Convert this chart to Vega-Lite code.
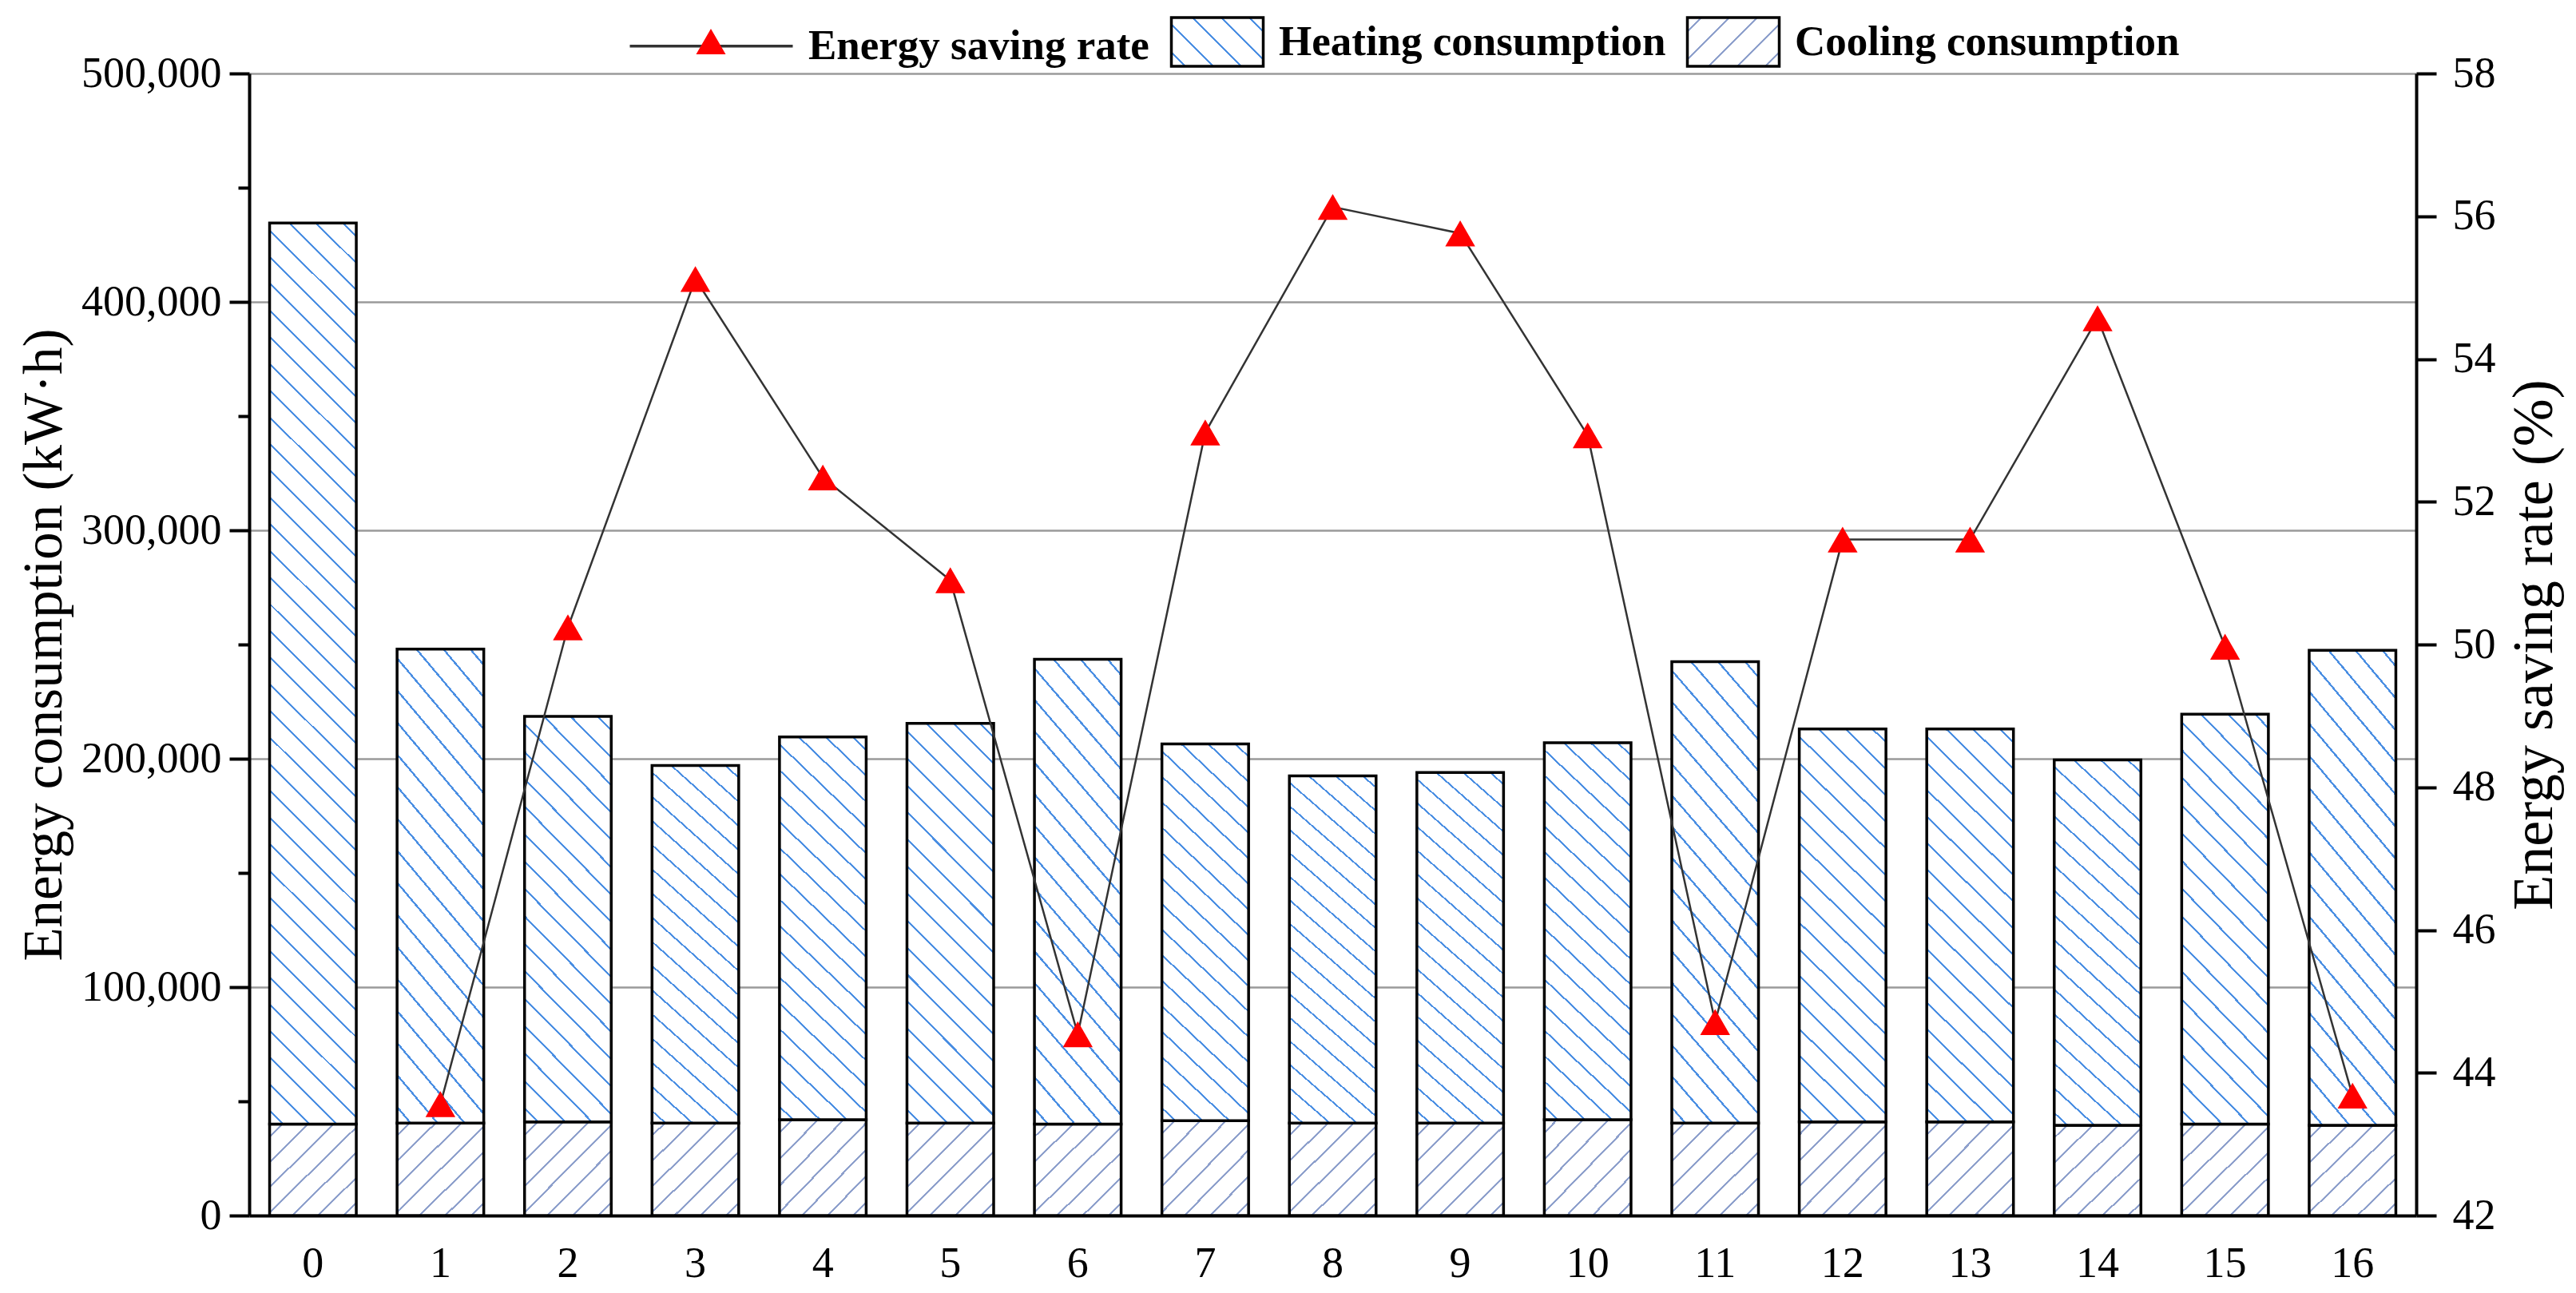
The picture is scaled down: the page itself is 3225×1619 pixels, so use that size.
{
"$schema": "https://vega.github.io/schema/vega-lite/v6.json",
"width": 2713, "height": 1430,
"autosize": {"type": "none"},
"padding": {"left": 312, "top": 92, "right": 200, "bottom": 97},
"background": "white",
"config": {"view": {"stroke": null}, "font": "Liberation Serif"},
"datasets": {
"consumption": [
{"scheme": 0, "type": "Cooling consumption", "value": 40000}, {"scheme": 0, "type": "Heating consumption", "value": 394500},
{"scheme": 1, "type": "Cooling consumption", "value": 40500}, {"scheme": 1, "type": "Heating consumption", "value": 207500},
{"scheme": 2, "type": "Cooling consumption", "value": 41000}, {"scheme": 2, "type": "Heating consumption", "value": 177500},
{"scheme": 3, "type": "Cooling consumption", "value": 40500}, {"scheme": 3, "type": "Heating consumption", "value": 156500},
{"scheme": 4, "type": "Cooling consumption", "value": 42000}, {"scheme": 4, "type": "Heating consumption", "value": 167500},
{"scheme": 5, "type": "Cooling consumption", "value": 40500}, {"scheme": 5, "type": "Heating consumption", "value": 175000},
{"scheme": 6, "type": "Cooling consumption", "value": 40000}, {"scheme": 6, "type": "Heating consumption", "value": 203500},
{"scheme": 7, "type": "Cooling consumption", "value": 41500}, {"scheme": 7, "type": "Heating consumption", "value": 165000},
{"scheme": 8, "type": "Cooling consumption", "value": 40500}, {"scheme": 8, "type": "Heating consumption", "value": 152000},
{"scheme": 9, "type": "Cooling consumption", "value": 40500}, {"scheme": 9, "type": "Heating consumption", "value": 153500},
{"scheme": 10, "type": "Cooling consumption", "value": 42000}, {"scheme": 10, "type": "Heating consumption", "value": 165000},
{"scheme": 11, "type": "Cooling consumption", "value": 40500}, {"scheme": 11, "type": "Heating consumption", "value": 202000},
{"scheme": 12, "type": "Cooling consumption", "value": 41000}, {"scheme": 12, "type": "Heating consumption", "value": 172000},
{"scheme": 13, "type": "Cooling consumption", "value": 41000}, {"scheme": 13, "type": "Heating consumption", "value": 172000},
{"scheme": 14, "type": "Cooling consumption", "value": 39500}, {"scheme": 14, "type": "Heating consumption", "value": 160000},
{"scheme": 15, "type": "Cooling consumption", "value": 40000}, {"scheme": 15, "type": "Heating consumption", "value": 179500},
{"scheme": 16, "type": "Cooling consumption", "value": 39500}, {"scheme": 16, "type": "Heating consumption", "value": 208000}
],
"rate": [
{"scheme": 1, "series": "Energy saving rate", "rate": 43.56},
{"scheme": 2, "series": "Energy saving rate", "rate": 50.24},
{"scheme": 3, "series": "Energy saving rate", "rate": 55.12},
{"scheme": 4, "series": "Energy saving rate", "rate": 52.34},
{"scheme": 5, "series": "Energy saving rate", "rate": 50.90},
{"scheme": 6, "series": "Energy saving rate", "rate": 44.54},
{"scheme": 7, "series": "Energy saving rate", "rate": 52.97},
{"scheme": 8, "series": "Energy saving rate", "rate": 56.13},
{"scheme": 9, "series": "Energy saving rate", "rate": 55.76},
{"scheme": 10, "series": "Energy saving rate", "rate": 52.93},
{"scheme": 11, "series": "Energy saving rate", "rate": 44.71},
{"scheme": 12, "series": "Energy saving rate", "rate": 51.47},
{"scheme": 13, "series": "Energy saving rate", "rate": 51.47},
{"scheme": 14, "series": "Energy saving rate", "rate": 54.57},
{"scheme": 15, "series": "Energy saving rate", "rate": 49.97},
{"scheme": 16, "series": "Energy saving rate", "rate": 43.68}
]
},
"encoding": {
"x": {"field": "scheme", "type": "ordinal", "scale": {"paddingInner": 0.32, "paddingOuter": 0.16},
 "axis": {"title": null, "ticks": false, "tickSize": 0, "labelPadding": 33, "labelFont": "Liberation Serif", "labelFontSize": 54, "labelColor": "black", "labelAngle": 0, "domainColor": "black", "domainWidth": 4, "grid": false}}
},
"layer": [
{
"data": {"name": "consumption"},
"encoding": {
 "y": {"field": "v1", "type": "quantitative", "scale": {"domain": [0, 500000], "nice": false},
  "axis": {"orient": "left", "values": [0, 50000, 100000, 150000, 200000, 250000, 300000, 350000, 400000, 450000, 500000],
   "labelExpr": "datum.value % 100000 === 0 ? format(datum.value, ',') : ''",
   "tickSize": {"condition": {"test": "datum.value % 100000 === 0", "value": 25}, "value": 14},
   "tickWidth": 4, "tickColor": "black", "domainColor": "black", "domainWidth": 4,
   "grid": true, "gridColor": "#9a9a9a", "gridWidth": 2.5,
   "gridOpacity": {"condition": {"test": "datum.value % 100000 === 0 && datum.value > 0", "value": 1}, "value": 0},
   "labelFont": "Liberation Serif", "labelFontSize": 54, "labelColor": "black", "labelPadding": 10, "labelOverlap": false,
   "title": "Energy consumption (kW·h)", "titleFont": "Liberation Serif", "titleFontSize": 69, "titleFontWeight": "normal", "titleColor": "black", "titlePadding": 22}},
 "y2": {"field": "v0"}
},
"layer": [
{"transform": [{"stack": "value", "groupby": ["scheme"], "sort": [{"field": "type", "order": "ascending"}], "as": ["v0", "v1"]}, {"filter": "datum.type === 'Cooling consumption'"}],
 "mark": {"type": "bar", "stroke": "black", "strokeWidth": 3.5, "opacity": 1,
  "fill": {"gradient": "linear", "x1": 0, "y1": 0, "x2": 0.9633, "y2": 1.0346, "stops": [
   {"offset":0,"color":"#fff"},
   {"offset":0.0647,"color":"#fff"},{"offset":0.0647,"color":"#8ea0cc"},{"offset":0.0781,"color":"#8ea0cc"},{"offset":0.0781,"color":"#fff"},
   {"offset":0.2076,"color":"#fff"},{"offset":0.2076,"color":"#8ea0cc"},{"offset":0.2210,"color":"#8ea0cc"},{"offset":0.2210,"color":"#fff"},
   {"offset":0.3504,"color":"#fff"},{"offset":0.3504,"color":"#8ea0cc"},{"offset":0.3638,"color":"#8ea0cc"},{"offset":0.3638,"color":"#fff"},
   {"offset":0.4933,"color":"#fff"},{"offset":0.4933,"color":"#8ea0cc"},{"offset":0.5067,"color":"#8ea0cc"},{"offset":0.5067,"color":"#fff"},
   {"offset":0.6362,"color":"#fff"},{"offset":0.6362,"color":"#8ea0cc"},{"offset":0.6496,"color":"#8ea0cc"},{"offset":0.6496,"color":"#fff"},
   {"offset":0.7790,"color":"#fff"},{"offset":0.7790,"color":"#8ea0cc"},{"offset":0.7924,"color":"#8ea0cc"},{"offset":0.7924,"color":"#fff"},
   {"offset":0.9219,"color":"#fff"},{"offset":0.9219,"color":"#8ea0cc"},{"offset":0.9353,"color":"#8ea0cc"},{"offset":0.9353,"color":"#fff"},
   {"offset":1,"color":"#fff"}]}}},
{"transform": [{"stack": "value", "groupby": ["scheme"], "sort": [{"field": "type", "order": "ascending"}], "as": ["v0", "v1"]}, {"filter": "datum.type === 'Heating consumption' && datum.scheme !== 0"}],
 "mark": {"type": "bar", "stroke": "black", "strokeWidth": 3.5, "opacity": 1,
  "fill": {"gradient": "linear", "x1": 0, "y1": 1, "x2": 0.2527, "y2": -0.1625, "stops": [
   {"offset":0,"color":"#fff"},
   {"offset":0.0253,"color":"#fff"},{"offset":0.0253,"color":"#4b8fe3"},{"offset":0.0303,"color":"#4b8fe3"},{"offset":0.0303,"color":"#fff"},
   {"offset":0.0808,"color":"#fff"},{"offset":0.0808,"color":"#4b8fe3"},{"offset":0.0858,"color":"#4b8fe3"},{"offset":0.0858,"color":"#fff"},
   {"offset":0.1364,"color":"#fff"},{"offset":0.1364,"color":"#4b8fe3"},{"offset":0.1414,"color":"#4b8fe3"},{"offset":0.1414,"color":"#fff"},
   {"offset":0.1919,"color":"#fff"},{"offset":0.1919,"color":"#4b8fe3"},{"offset":0.1969,"color":"#4b8fe3"},{"offset":0.1969,"color":"#fff"},
   {"offset":0.2475,"color":"#fff"},{"offset":0.2475,"color":"#4b8fe3"},{"offset":0.2525,"color":"#4b8fe3"},{"offset":0.2525,"color":"#fff"},
   {"offset":0.3031,"color":"#fff"},{"offset":0.3031,"color":"#4b8fe3"},{"offset":0.3081,"color":"#4b8fe3"},{"offset":0.3081,"color":"#fff"},
   {"offset":0.3586,"color":"#fff"},{"offset":0.3586,"color":"#4b8fe3"},{"offset":0.3636,"color":"#4b8fe3"},{"offset":0.3636,"color":"#fff"},
   {"offset":0.4142,"color":"#fff"},{"offset":0.4142,"color":"#4b8fe3"},{"offset":0.4192,"color":"#4b8fe3"},{"offset":0.4192,"color":"#fff"},
   {"offset":0.4697,"color":"#fff"},{"offset":0.4697,"color":"#4b8fe3"},{"offset":0.4747,"color":"#4b8fe3"},{"offset":0.4747,"color":"#fff"},
   {"offset":0.5253,"color":"#fff"},{"offset":0.5253,"color":"#4b8fe3"},{"offset":0.5303,"color":"#4b8fe3"},{"offset":0.5303,"color":"#fff"},
   {"offset":0.5808,"color":"#fff"},{"offset":0.5808,"color":"#4b8fe3"},{"offset":0.5858,"color":"#4b8fe3"},{"offset":0.5858,"color":"#fff"},
   {"offset":0.6364,"color":"#fff"},{"offset":0.6364,"color":"#4b8fe3"},{"offset":0.6414,"color":"#4b8fe3"},{"offset":0.6414,"color":"#fff"},
   {"offset":0.6919,"color":"#fff"},{"offset":0.6919,"color":"#4b8fe3"},{"offset":0.6969,"color":"#4b8fe3"},{"offset":0.6969,"color":"#fff"},
   {"offset":0.7475,"color":"#fff"},{"offset":0.7475,"color":"#4b8fe3"},{"offset":0.7525,"color":"#4b8fe3"},{"offset":0.7525,"color":"#fff"},
   {"offset":0.8031,"color":"#fff"},{"offset":0.8031,"color":"#4b8fe3"},{"offset":0.8081,"color":"#4b8fe3"},{"offset":0.8081,"color":"#fff"},
   {"offset":0.8586,"color":"#fff"},{"offset":0.8586,"color":"#4b8fe3"},{"offset":0.8636,"color":"#4b8fe3"},{"offset":0.8636,"color":"#fff"},
   {"offset":0.9142,"color":"#fff"},{"offset":0.9142,"color":"#4b8fe3"},{"offset":0.9192,"color":"#4b8fe3"},{"offset":0.9192,"color":"#fff"},
   {"offset":0.9697,"color":"#fff"},{"offset":0.9697,"color":"#4b8fe3"},{"offset":0.9747,"color":"#4b8fe3"},{"offset":0.9747,"color":"#fff"},
   {"offset":1,"color":"#fff"}]}}},
{"transform": [{"stack": "value", "groupby": ["scheme"], "sort": [{"field": "type", "order": "ascending"}], "as": ["v0", "v1"]}, {"filter": "datum.type === 'Heating consumption' && datum.scheme === 0"}],
 "mark": {"type": "bar", "stroke": "black", "strokeWidth": 3.5, "opacity": 1,
  "fill": {"gradient": "linear", "x1": 0, "y1": 1, "x2": 0.1041, "y2": -0.0858, "stops": [
   {"offset":0,"color":"#fff"},
   {"offset":0.0123,"color":"#fff"},{"offset":0.0123,"color":"#4b8fe3"},{"offset":0.0147,"color":"#4b8fe3"},{"offset":0.0147,"color":"#fff"},
   {"offset":0.0393,"color":"#fff"},{"offset":0.0393,"color":"#4b8fe3"},{"offset":0.0417,"color":"#4b8fe3"},{"offset":0.0417,"color":"#fff"},
   {"offset":0.0664,"color":"#fff"},{"offset":0.0664,"color":"#4b8fe3"},{"offset":0.0688,"color":"#4b8fe3"},{"offset":0.0688,"color":"#fff"},
   {"offset":0.0934,"color":"#fff"},{"offset":0.0934,"color":"#4b8fe3"},{"offset":0.0958,"color":"#4b8fe3"},{"offset":0.0958,"color":"#fff"},
   {"offset":0.1204,"color":"#fff"},{"offset":0.1204,"color":"#4b8fe3"},{"offset":0.1228,"color":"#4b8fe3"},{"offset":0.1228,"color":"#fff"},
   {"offset":0.1474,"color":"#fff"},{"offset":0.1474,"color":"#4b8fe3"},{"offset":0.1498,"color":"#4b8fe3"},{"offset":0.1498,"color":"#fff"},
   {"offset":0.1745,"color":"#fff"},{"offset":0.1745,"color":"#4b8fe3"},{"offset":0.1769,"color":"#4b8fe3"},{"offset":0.1769,"color":"#fff"},
   {"offset":0.2015,"color":"#fff"},{"offset":0.2015,"color":"#4b8fe3"},{"offset":0.2039,"color":"#4b8fe3"},{"offset":0.2039,"color":"#fff"},
   {"offset":0.2285,"color":"#fff"},{"offset":0.2285,"color":"#4b8fe3"},{"offset":0.2309,"color":"#4b8fe3"},{"offset":0.2309,"color":"#fff"},
   {"offset":0.2556,"color":"#fff"},{"offset":0.2556,"color":"#4b8fe3"},{"offset":0.2580,"color":"#4b8fe3"},{"offset":0.2580,"color":"#fff"},
   {"offset":0.2826,"color":"#fff"},{"offset":0.2826,"color":"#4b8fe3"},{"offset":0.2850,"color":"#4b8fe3"},{"offset":0.2850,"color":"#fff"},
   {"offset":0.3096,"color":"#fff"},{"offset":0.3096,"color":"#4b8fe3"},{"offset":0.3120,"color":"#4b8fe3"},{"offset":0.3120,"color":"#fff"},
   {"offset":0.3366,"color":"#fff"},{"offset":0.3366,"color":"#4b8fe3"},{"offset":0.3390,"color":"#4b8fe3"},{"offset":0.3390,"color":"#fff"},
   {"offset":0.3637,"color":"#fff"},{"offset":0.3637,"color":"#4b8fe3"},{"offset":0.3661,"color":"#4b8fe3"},{"offset":0.3661,"color":"#fff"},
   {"offset":0.3907,"color":"#fff"},{"offset":0.3907,"color":"#4b8fe3"},{"offset":0.3931,"color":"#4b8fe3"},{"offset":0.3931,"color":"#fff"},
   {"offset":0.4177,"color":"#fff"},{"offset":0.4177,"color":"#4b8fe3"},{"offset":0.4201,"color":"#4b8fe3"},{"offset":0.4201,"color":"#fff"},
   {"offset":0.4448,"color":"#fff"},{"offset":0.4448,"color":"#4b8fe3"},{"offset":0.4472,"color":"#4b8fe3"},{"offset":0.4472,"color":"#fff"},
   {"offset":0.4718,"color":"#fff"},{"offset":0.4718,"color":"#4b8fe3"},{"offset":0.4742,"color":"#4b8fe3"},{"offset":0.4742,"color":"#fff"},
   {"offset":0.4988,"color":"#fff"},{"offset":0.4988,"color":"#4b8fe3"},{"offset":0.5012,"color":"#4b8fe3"},{"offset":0.5012,"color":"#fff"},
   {"offset":0.5258,"color":"#fff"},{"offset":0.5258,"color":"#4b8fe3"},{"offset":0.5282,"color":"#4b8fe3"},{"offset":0.5282,"color":"#fff"},
   {"offset":0.5529,"color":"#fff"},{"offset":0.5529,"color":"#4b8fe3"},{"offset":0.5553,"color":"#4b8fe3"},{"offset":0.5553,"color":"#fff"},
   {"offset":0.5799,"color":"#fff"},{"offset":0.5799,"color":"#4b8fe3"},{"offset":0.5823,"color":"#4b8fe3"},{"offset":0.5823,"color":"#fff"},
   {"offset":0.6069,"color":"#fff"},{"offset":0.6069,"color":"#4b8fe3"},{"offset":0.6093,"color":"#4b8fe3"},{"offset":0.6093,"color":"#fff"},
   {"offset":0.6339,"color":"#fff"},{"offset":0.6339,"color":"#4b8fe3"},{"offset":0.6363,"color":"#4b8fe3"},{"offset":0.6363,"color":"#fff"},
   {"offset":0.6610,"color":"#fff"},{"offset":0.6610,"color":"#4b8fe3"},{"offset":0.6634,"color":"#4b8fe3"},{"offset":0.6634,"color":"#fff"},
   {"offset":0.6880,"color":"#fff"},{"offset":0.6880,"color":"#4b8fe3"},{"offset":0.6904,"color":"#4b8fe3"},{"offset":0.6904,"color":"#fff"},
   {"offset":0.7150,"color":"#fff"},{"offset":0.7150,"color":"#4b8fe3"},{"offset":0.7174,"color":"#4b8fe3"},{"offset":0.7174,"color":"#fff"},
   {"offset":0.7421,"color":"#fff"},{"offset":0.7421,"color":"#4b8fe3"},{"offset":0.7445,"color":"#4b8fe3"},{"offset":0.7445,"color":"#fff"},
   {"offset":0.7691,"color":"#fff"},{"offset":0.7691,"color":"#4b8fe3"},{"offset":0.7715,"color":"#4b8fe3"},{"offset":0.7715,"color":"#fff"},
   {"offset":0.7961,"color":"#fff"},{"offset":0.7961,"color":"#4b8fe3"},{"offset":0.7985,"color":"#4b8fe3"},{"offset":0.7985,"color":"#fff"},
   {"offset":0.8231,"color":"#fff"},{"offset":0.8231,"color":"#4b8fe3"},{"offset":0.8255,"color":"#4b8fe3"},{"offset":0.8255,"color":"#fff"},
   {"offset":0.8502,"color":"#fff"},{"offset":0.8502,"color":"#4b8fe3"},{"offset":0.8526,"color":"#4b8fe3"},{"offset":0.8526,"color":"#fff"},
   {"offset":0.8772,"color":"#fff"},{"offset":0.8772,"color":"#4b8fe3"},{"offset":0.8796,"color":"#4b8fe3"},{"offset":0.8796,"color":"#fff"},
   {"offset":0.9042,"color":"#fff"},{"offset":0.9042,"color":"#4b8fe3"},{"offset":0.9066,"color":"#4b8fe3"},{"offset":0.9066,"color":"#fff"},
   {"offset":0.9312,"color":"#fff"},{"offset":0.9312,"color":"#4b8fe3"},{"offset":0.9336,"color":"#4b8fe3"},{"offset":0.9336,"color":"#fff"},
   {"offset":0.9583,"color":"#fff"},{"offset":0.9583,"color":"#4b8fe3"},{"offset":0.9607,"color":"#4b8fe3"},{"offset":0.9607,"color":"#fff"},
   {"offset":0.9853,"color":"#fff"},{"offset":0.9853,"color":"#4b8fe3"},{"offset":0.9877,"color":"#4b8fe3"},{"offset":0.9877,"color":"#fff"},
   {"offset":1,"color":"#fff"}]}}}
]
},
{
"data": {"name": "rate"},
"encoding": {
 "y": {"field": "rate", "type": "quantitative", "scale": {"domain": [42, 58], "nice": false},
  "axis": {"orient": "right", "values": [42, 44, 46, 48, 50, 52, 54, 56, 58],
   "tickSize": 25, "tickWidth": 4, "tickColor": "black", "domainColor": "black", "domainWidth": 4, "grid": false,
   "labelFont": "Liberation Serif", "labelFontSize": 54, "labelColor": "black", "labelPadding": 20,
   "title": "Energy saving rate (%)", "titleAngle": 270, "titleBaseline": "top", "titleFont": "Liberation Serif", "titleFontSize": 72, "titleFontWeight": "normal", "titleColor": "black", "titlePadding": 13}}
},
"layer": [
{"mark": {"type": "line", "strokeWidth": 2.5},
 "encoding": {"stroke": {"field": "series", "type": "nominal",
   "scale": {"domain": ["Energy saving rate", "Heating consumption", "Cooling consumption"], "range": ["#333333", "black", "black"]},
   "legend": {"title": null, "orient": "none", "legendX": 563.5, "legendY": -99, "direction": "horizontal", "columns": 3, "columnPadding": 20, "padding": 0,
    "symbolSize": 13225, "symbolStrokeWidth": 3, "labelOffset": 17.5, "labelFont": "Liberation Serif", "labelFontSize": 53, "labelFontWeight": "bold", "labelColor": "black", "labelLimit": 0,
    "encode": {"symbols": {"update": {
      "size": {"value": 13225},
      "opacity": {"value": 1},
      "shape": [{"test": "datum.value === 'Energy saving rate'", "value": "M-2.548,0H1"}, {"value": "M-1,-0.53H1V0.53H-1Z"}],
      "strokeWidth": {"value": 3.5},
      "fill": [
        {"test": "datum.value === 'Energy saving rate'", "value": "transparent"},
        {"test": "datum.value === 'Heating consumption'", "value": {"gradient": "linear", "x1": 0, "y1": 1, "x2": 1.194, "y2": 0.367, "stops": [
          {"offset":0,"color":"#fff"},
          {"offset":0.0915,"color":"#fff"},{"offset":0.0915,"color":"#4b8fe3"},{"offset":0.1085,"color":"#4b8fe3"},{"offset":0.1085,"color":"#fff"},
          {"offset":0.2915,"color":"#fff"},{"offset":0.2915,"color":"#4b8fe3"},{"offset":0.3085,"color":"#4b8fe3"},{"offset":0.3085,"color":"#fff"},
          {"offset":0.4915,"color":"#fff"},{"offset":0.4915,"color":"#4b8fe3"},{"offset":0.5085,"color":"#4b8fe3"},{"offset":0.5085,"color":"#fff"},
          {"offset":0.6915,"color":"#fff"},{"offset":0.6915,"color":"#4b8fe3"},{"offset":0.7085,"color":"#4b8fe3"},{"offset":0.7085,"color":"#fff"},
          {"offset":0.8915,"color":"#fff"},{"offset":0.8915,"color":"#4b8fe3"},{"offset":0.9085,"color":"#4b8fe3"},{"offset":0.9085,"color":"#fff"},
          {"offset":1,"color":"#fff"}]}},
        {"value": {"gradient": "linear", "x1": 0, "y1": 0, "x2": 1.194, "y2": 0.633, "stops": [
          {"offset":0,"color":"#fff"},
          {"offset":0.0915,"color":"#fff"},{"offset":0.0915,"color":"#8ea0cc"},{"offset":0.1085,"color":"#8ea0cc"},{"offset":0.1085,"color":"#fff"},
          {"offset":0.2915,"color":"#fff"},{"offset":0.2915,"color":"#8ea0cc"},{"offset":0.3085,"color":"#8ea0cc"},{"offset":0.3085,"color":"#fff"},
          {"offset":0.4915,"color":"#fff"},{"offset":0.4915,"color":"#8ea0cc"},{"offset":0.5085,"color":"#8ea0cc"},{"offset":0.5085,"color":"#fff"},
          {"offset":0.6915,"color":"#fff"},{"offset":0.6915,"color":"#8ea0cc"},{"offset":0.7085,"color":"#8ea0cc"},{"offset":0.7085,"color":"#fff"},
          {"offset":0.8915,"color":"#fff"},{"offset":0.8915,"color":"#8ea0cc"},{"offset":0.9085,"color":"#8ea0cc"},{"offset":0.9085,"color":"#fff"},
          {"offset":1,"color":"#fff"}]}}]
    }}}}}}},
{"mark": {"type": "point", "filled": true, "size": 1400, "opacity": 1, "strokeWidth": 0, "shape": "triangle-up"},
 "encoding": {"fill": {"datum": "Energy saving rate", "type": "nominal",
   "scale": {"domain": ["Energy saving rate"], "range": ["#ff0000"]},
   "legend": {"title": null, "orient": "none", "legendX": 563.5, "legendY": -99, "direction": "horizontal", "columns": 1, "padding": 0,
    "symbolType": "M-2.548,0L-2.548,0.01M-0.774,-0.278L-0.452,0.278L-1.096,0.278Z",
    "symbolSize": 13225, "symbolStrokeWidth": 3, "labelOffset": 17.5, "labelFont": "Liberation Serif", "labelFontSize": 53, "labelFontWeight": "bold", "labelOpacity": 0, "labelLimit": 0,
    "encode": {"symbols": {"update": {
      "size": {"value": 13225},
      "opacity": {"value": 1},
      "shape": {"value": "M-2.548,0L-2.548,0.01M-0.774,-0.278L-0.452,0.278L-1.096,0.278Z"},
      "stroke": {"value": "transparent"},
      "strokeWidth": {"value": 0}
    }}}}}}}
]
}
],
"resolve": {"scale": {"y": "independent"}}
}
